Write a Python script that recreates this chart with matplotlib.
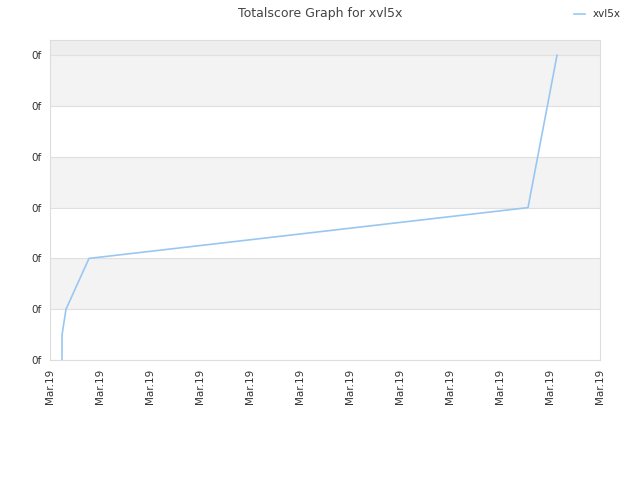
import matplotlib
matplotlib.use("Agg")
import matplotlib.pyplot as plt

# values (axis units: x = tick index, y = tick index)
x_vals = [0.24, 0.24, 0.32, 0.78, 9.56, 10.14]
y_vals = [0.0, 0.49, 1.0, 2.0, 3.0, 6.0]
x_labels = ["Mar.19"] * 12
y_labels = ["0f"] * 7
series_name = "xvl5x"

fig = plt.figure(figsize=(6.4, 4.8), dpi=100)
ax = fig.add_axes([50/640, 120/480, 550/640, 320/480])

ymax = 6.3
# alternating bands
for i in range(6):
    if i % 2 == 1:
        ax.axhspan(i, i + 1, color="#f3f3f3", zorder=0, lw=0)
ax.axhspan(6, ymax, color="#eeeeee", zorder=0, lw=0)
for i in range(7):
    ax.axhline(i, color="#e0e0e0", lw=0.8, zorder=1)

ax.plot(x_vals, y_vals, color="#99c7f2", lw=1.2, label=series_name, zorder=3)

ax.set_xlim(0, 11)
ax.set_ylim(0, ymax)
ax.set_xticks(range(12))
ax.set_xticklabels(x_labels, rotation=90, fontsize=7.5, color="#333333")
ax.set_yticks(range(7))
ax.set_yticklabels(y_labels, fontsize=7.5, color="#333333")
ax.tick_params(length=0, pad=6)
for s in ax.spines.values():
    s.set_color("#dddddd")

fig.suptitle("Totalscore Graph for xvl5x", fontsize=9, color="#444444", y=0.985)
fig.legend(loc="upper right", bbox_to_anchor=(0.985, 1.0), frameon=False,
           fontsize=7.5, handlelength=1.0, labelcolor="#333333")

fig.savefig("out.png", dpi=100)
